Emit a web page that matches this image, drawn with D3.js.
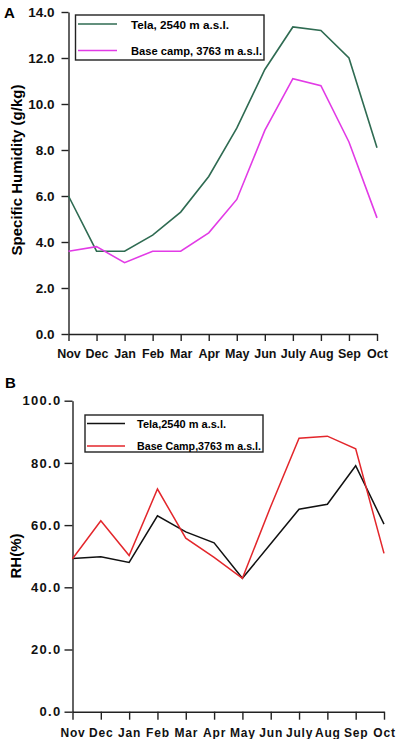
<!DOCTYPE html>
<html>
<head>
<meta charset="utf-8">
<script src="https://cdnjs.cloudflare.com/ajax/libs/d3/7.8.5/d3.min.js"></script>
<style>
  body { margin: 0; background: #fff; }
  svg { display: block; font-family: Arial, "Liberation Sans", sans-serif; }
  .axis path, .axis line { stroke: #222; stroke-width: 1.4px; }
  .axis text { fill: #111; font-weight: bold; }
</style>
</head>
<body>
<div id="chart"></div>
<script>
      // months on the x axis (both panels)
      var months = ["Nov", "Dec", "Jan", "Feb", "Mar", "Apr", "May", "Jun", "July", "Aug", "Sep", "Oct"];

      // panel A: specific humidity (g/kg)
      var shTela = [6.0, 3.6, 3.6, 4.3, 5.3, 6.85, 8.95, 11.5, 13.35, 13.2, 12.0, 8.1];
      var shBase = [3.6, 3.8, 3.1, 3.6, 3.6, 4.4, 5.85, 8.85, 11.1, 10.8, 8.35, 5.05];
      var shTicks = [0, 2, 4, 6, 8, 10, 12, 14];

      // panel B: relative humidity (%)
      var rhTela = [49.3, 49.8, 48.0, 63.0, 57.8, 54.3, 42.9, 54.0, 65.1, 66.7, 79.1, 60.3];
      var rhBase = [49.2, 61.4, 50.2, 71.6, 55.8, 49.6, 42.9, 66.0, 87.9, 88.6, 84.5, 50.9];
      var rhTicks = [0, 20, 40, 60, 80, 100];

      var svg = d3.select("#chart").append("svg")
          .attr("width", 397)
          .attr("height", 739);

      ////// Panel A /////////////////
      var xA = d3.scalePoint().domain(months).range([68.5, 377]);
      var yA = d3.scaleLinear().domain([0, 14]).range([334, 12]);

      var axA = svg.append("g").attr("class", "axis")
          .attr("transform", "translate(0,334)")
          .call(d3.axisBottom(xA).tickSize(7).tickSizeOuter(0).tickPadding(8));
      axA.selectAll("text").style("font-size", "12.5px");

      var ayA = svg.append("g").attr("class", "axis")
          .attr("transform", "translate(68.5,0)")
          .call(d3.axisLeft(yA).tickValues(shTicks).tickFormat(d3.format(".1f"))
              .tickSize(7).tickSizeOuter(0).tickPadding(7));
      ayA.selectAll("text").style("font-size", "13.5px");

      var lineA = d3.line()
          .x(function(d, i) { return xA(months[i]); })
          .y(function(d) { return yA(d); });

      svg.append("path").datum(shTela)
          .attr("d", lineA).attr("fill", "none")
          .attr("stroke", "#2f6b52").attr("stroke-width", 1.6);
      svg.append("path").datum(shBase)
          .attr("d", lineA).attr("fill", "none")
          .attr("stroke", "#e23be6").attr("stroke-width", 1.6);

      // legend A
      var legA = svg.append("g");
      legA.append("rect").attr("x", 75.5).attr("y", 15).attr("width", 188.5).attr("height", 45)
          .attr("fill", "#fff").attr("stroke", "#222").attr("stroke-width", 1.4);
      legA.append("line").attr("x1", 78).attr("x2", 117).attr("y1", 24).attr("y2", 24)
          .attr("stroke", "#2f6b52").attr("stroke-width", 1.6);
      legA.append("line").attr("x1", 78).attr("x2", 117).attr("y1", 50.5).attr("y2", 50.5)
          .attr("stroke", "#e23be6").attr("stroke-width", 1.6);
      legA.append("text").attr("x", 131).attr("y", 28.5).text("Tela, 2540 m a.s.l.")
          .attr("font-size", "11px").attr("font-weight", "bold")
          .attr("textLength", 98).attr("lengthAdjust", "spacingAndGlyphs");
      legA.append("text").attr("x", 131).attr("y", 55).text("Base camp, 3763 m a.s.l.")
          .attr("font-size", "11px").attr("font-weight", "bold")
          .attr("textLength", 131).attr("lengthAdjust", "spacingAndGlyphs");

      svg.append("text").attr("x", 4).attr("y", 18).text("A")
          .attr("font-size", "15px").attr("font-weight", "bold");
      svg.append("text")
          .attr("transform", "translate(22,170) rotate(-90)")
          .attr("text-anchor", "middle")
          .attr("font-size", "15px").attr("font-weight", "bold")
          .text("Specific Humidity (g/kg)");

      ////// Panel B /////////////////
      var xB = d3.scalePoint().domain(months).range([72.5, 384]);
      var yB = d3.scaleLinear().domain([0, 100]).range([711.7, 400.7]);

      var axB = svg.append("g").attr("class", "axis")
          .attr("transform", "translate(0,711.7)")
          .call(d3.axisBottom(xB).tickSize(8).tickSizeOuter(0).tickPadding(9));
      axB.selectAll("text").style("font-size", "12px").style("letter-spacing", "0.8px");

      var ayB = svg.append("g").attr("class", "axis")
          .attr("transform", "translate(72.5,0)")
          .call(d3.axisLeft(yB).tickValues(rhTicks).tickFormat(d3.format(".1f"))
              .tickSize(8).tickSizeOuter(0).tickPadding(3));
      ayB.selectAll("text").style("font-size", "13px").style("letter-spacing", "1.3px");

      var lineB = d3.line()
          .x(function(d, i) { return xB(months[i]); })
          .y(function(d) { return yB(d); });

      svg.append("path").datum(rhTela)
          .attr("d", lineB).attr("fill", "none")
          .attr("stroke", "#111").attr("stroke-width", 1.5);
      svg.append("path").datum(rhBase)
          .attr("d", lineB).attr("fill", "none")
          .attr("stroke", "#e3262b").attr("stroke-width", 1.5);

      // legend B
      var legB = svg.append("g");
      legB.append("rect").attr("x", 85).attr("y", 415).attr("width", 178).attr("height", 37)
          .attr("fill", "#fff").attr("stroke", "#222").attr("stroke-width", 1.4);
      legB.append("line").attr("x1", 87).attr("x2", 125).attr("y1", 423.5).attr("y2", 423.5)
          .attr("stroke", "#111").attr("stroke-width", 1.5);
      legB.append("line").attr("x1", 87).attr("x2", 125).attr("y1", 446).attr("y2", 446)
          .attr("stroke", "#e3262b").attr("stroke-width", 1.5);
      legB.append("text").attr("x", 137).attr("y", 427.5).text("Tela,2540 m a.s.l.")
          .attr("font-size", "10px").attr("font-weight", "bold")
          .attr("textLength", 89).attr("lengthAdjust", "spacingAndGlyphs");
      legB.append("text").attr("x", 137).attr("y", 450).text("Base Camp,3763 m a.s.l.")
          .attr("font-size", "10px").attr("font-weight", "bold")
          .attr("textLength", 124).attr("lengthAdjust", "spacingAndGlyphs");

      svg.append("text").attr("x", 5).attr("y", 388).text("B")
          .attr("font-size", "15px").attr("font-weight", "bold");
      svg.append("text")
          .attr("transform", "translate(21,556) rotate(-90)")
          .attr("text-anchor", "middle")
          .attr("font-size", "15px").attr("font-weight", "bold")
          .text("RH(%)");
</script>
</body>
</html>
